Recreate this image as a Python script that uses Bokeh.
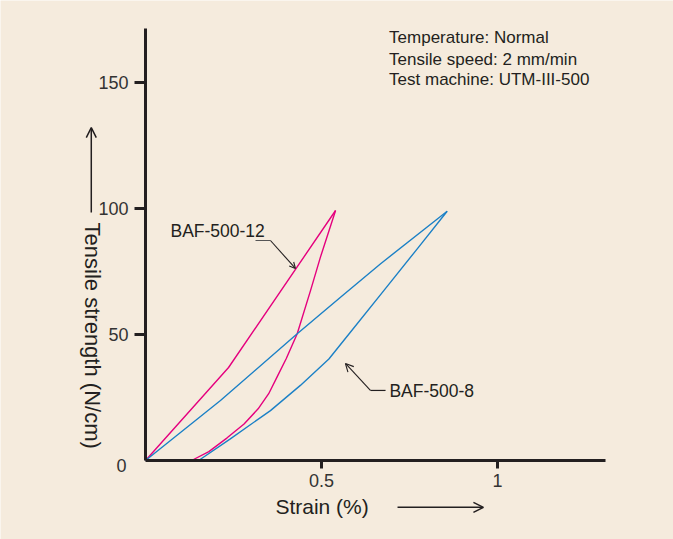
import math
from bokeh.plotting import figure
from bokeh.models import Label, Arrow, OpenHead, FixedTicker, Range1d, NumeralTickFormatter
from bokeh.embed import file_html
from bokeh.resources import INLINE

# ---- data ----
baf12_load_x = [0.0, 0.236, 0.540]
baf12_load_y = [0.0, 36.9, 99.2]
baf12_unload_x = [0.540, 0.497, 0.469, 0.431, 0.400, 0.375, 0.350, 0.320, 0.280, 0.232, 0.180, 0.131]
baf12_unload_y = [99.2, 80.7, 67.5, 50.3, 40.5, 33.5, 26.5, 20.5, 14.5, 9.0, 3.5, 0.0]

baf8_load_x = [0.0, 0.213, 0.431, 0.554, 0.668, 0.857]
baf8_load_y = [0.0, 23.8, 50.3, 64.8, 78.1, 98.9]
baf8_unload_x = [0.857, 0.772, 0.677, 0.582, 0.521, 0.440, 0.355, 0.241, 0.151]
baf8_unload_y = [98.9, 84.0, 67.4, 50.9, 40.3, 29.8, 19.8, 8.6, 0.0]

x_ticks = [0.5, 1]
y_ticks = [50, 100, 150]
zero_label = "0"
x_axis_end = 1.307
y_axis_end = 171.4

series_names = ["BAF-500-12", "BAF-500-8"]
conditions = ["Temperature: Normal", "Tensile speed: 2 mm/min", "Test machine: UTM-III-500"]
x_title = "Strain (%)"
y_title = "Tensile strength (N/cm)"

# ---- style ----
BG = "#F5EBDD"
INK = "#231F20"
TICK_INK = "#333333"
PINK = "#E5007E"
BLUE = "#1B80C6"
FONT = "Liberation Sans"

# frame covers the whole canvas; axes are pinned at data 0
p = figure(frame_width=673, frame_height=539,
           min_border_left=0, min_border_right=0, min_border_top=0, min_border_bottom=0,
           x_range=Range1d(-0.4119, 1.5), y_range=Range1d(-31.35, 182.54),
           output_backend="svg", toolbar_location=None,
           background_fill_color=BG, border_fill_color=BG, outline_line_color=None)

p.xgrid.visible = False
p.ygrid.visible = False

for ax in (p.xaxis[0], p.yaxis[0]):
    ax.fixed_location = 0
    ax.axis_line_width = 3
    ax.axis_line_color = INK
    ax.major_tick_line_width = 3
    ax.major_tick_line_color = INK
    ax.major_tick_in = 0
    ax.minor_tick_line_color = None
    ax.major_label_text_font = FONT
    ax.major_label_text_font_size = "18px"
    ax.major_label_text_color = TICK_INK
    ax.major_label_standoff = 6

p.xaxis.ticker = FixedTicker(ticks=x_ticks)
p.xaxis.formatter = NumeralTickFormatter(format="0.[0]")
p.xaxis.major_tick_out = 8
p.xaxis.bounds = (0, x_axis_end)
p.yaxis.ticker = FixedTicker(ticks=y_ticks)
p.yaxis.major_tick_out = 11
p.yaxis.bounds = (0, y_axis_end)

# curves
p.line(baf12_load_x, baf12_load_y, line_color=PINK, line_width=1.4)
p.line(baf12_unload_x, baf12_unload_y, line_color=PINK, line_width=1.4)
p.line(baf8_load_x, baf8_load_y, line_color=BLUE, line_width=1.4)
p.line(baf8_unload_x, baf8_unload_y, line_color=BLUE, line_width=1.4)

# leader lines for series labels
leader12_x = [0.3125, 0.355, 0.426]
leader12_y = [87.3, 87.3, 76.2]
leader8_x = [0.682, 0.639, 0.568]
leader8_y = [27.8, 27.8, 38.5]
p.line(leader12_x[:2], leader12_y[:2], line_color="#555555", line_width=1.2)
p.line(leader8_x[:2], leader8_y[:2], line_color=INK, line_width=1.2)
p.add_layout(Arrow(end=OpenHead(size=6, line_width=1.1, line_color=INK),
                   x_start=leader12_x[1], y_start=leader12_y[1],
                   x_end=leader12_x[2], y_end=leader12_y[2],
                   line_width=1.1, line_color=INK))
p.add_layout(Arrow(end=OpenHead(size=8, line_width=1.1, line_color=INK),
                   x_start=leader8_x[1], y_start=leader8_y[1],
                   x_end=leader8_x[2], y_end=leader8_y[2],
                   line_width=1.1, line_color=INK))

def lab(x, y, text, size, align="left", baseline="alphabetic", angle=0.0, color=INK):
    p.add_layout(Label(x=x, y=y, text=text, text_font=FONT, text_font_size=size,
                       text_color=color, text_align=align, text_baseline=baseline,
                       angle=angle))

UP = 2.6  # baseline correction (about 6.5 px)
lab(0.071, 88.5 + UP, series_names[0], "17.5px")
lab(0.693, 25.0 + UP, series_names[1], "17.5px")

cond_y = [165.1, 156.7, 148.4]
for t, yy in zip(conditions, cond_y):
    lab(0.692, yy + UP, t, "17px")

# zero label at the corner
lab(-0.068, -4.4 + UP, zero_label, "18px", align="center", color=TICK_INK)

# axis titles with arrows
lab(0.369, -21.0 + UP, x_title, "21px")
p.add_layout(Arrow(end=OpenHead(size=10, line_width=1.5, line_color=INK),
                   x_start=0.716, y_start=-18.6, x_end=0.960, y_end=-18.6,
                   line_width=1.5, line_color=INK))

lab(-0.150, 94.4, y_title, "22px", baseline="middle", angle=-math.pi / 2)
p.add_layout(Arrow(end=OpenHead(size=10, line_width=1.5, line_color=INK),
                   x_start=-0.154, y_start=98.4, x_end=-0.154, y_end=132.1,
                   line_width=1.5, line_color=INK))

open("out.html", "w").write(file_html(p, INLINE))
